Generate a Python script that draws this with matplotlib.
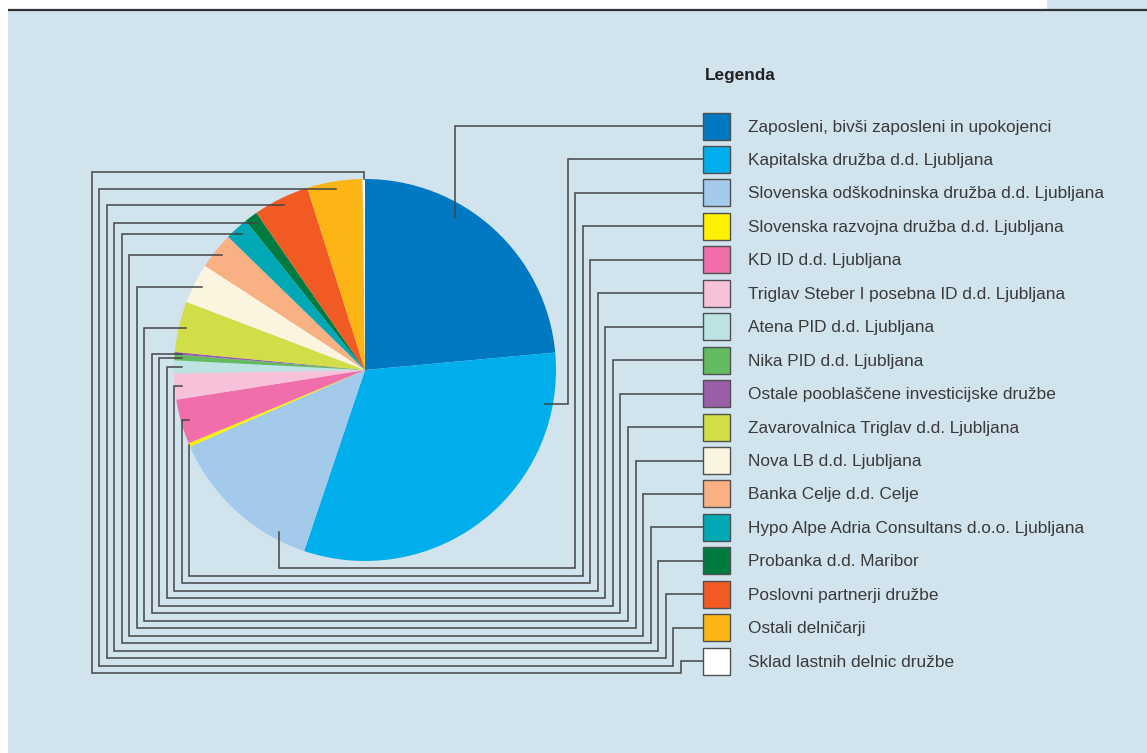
#!/usr/bin/env python3
"""Ownership structure pie with routed leader lines to the legend."""

from __future__ import annotations

import matplotlib as mpl
import matplotlib.pyplot as plt
import numpy as np
from matplotlib.patches import Rectangle

# shareholder groups (legend order, clockwise from 12 o'clock)
labels = [
    "Zaposleni, bivši zaposleni in upokojenci",
    "Kapitalska družba d.d. Ljubljana",
    "Slovenska odškodninska družba d.d. Ljubljana",
    "Slovenska razvojna družba d.d. Ljubljana",
    "KD ID d.d. Ljubljana",
    "Triglav Steber I posebna ID d.d. Ljubljana",
    "Atena PID d.d. Ljubljana",
    "Nika PID d.d. Ljubljana",
    "Ostale pooblaščene investicijske družbe",
    "Zavarovalnica Triglav d.d. Ljubljana",
    "Nova LB d.d. Ljubljana",
    "Banka Celje d.d. Celje",
    "Hypo Alpe Adria Consultans d.o.o. Ljubljana",
    "Probanka d.d. Maribor",
    "Poslovni partnerji družbe",
    "Ostali delničarji",
    "Sklad lastnih delnic družbe",
]
# shares in percent
shares = [23.6, 31.7, 13.3, 0.3, 3.8, 2.2, 1.1, 0.5, 0.2, 4.3, 3.4, 3.1, 2.0, 1.1, 4.75, 4.7, 0.2]

colors = [
    "#0079C2", "#00AEEC", "#A4CAEB", "#FFF200", "#F06FAA", "#F7C1D9",
    "#BEE3E3", "#62BB5E", "#9B5FA8", "#D1DE48", "#FBF5E0", "#F9B184",
    "#00A9B5", "#007B40", "#F15A22", "#FDB515", "#FFFFFF",
]

W, H = 1147, 753
BG = "#D1E3EC"
LINE = "#454545"
TEXT = "#3a3a3a"


def set_style() -> None:
    mpl.rcParams.update(
        {
            "font.family": ["Liberation Sans", "DejaVu Sans"],
            "font.size": 12.4,
            "savefig.dpi": 100,
        }
    )


def main() -> None:
    set_style()
    fig = plt.figure(figsize=(W / 100, H / 100), dpi=100, facecolor="white")
    ax = fig.add_axes([0, 0, 1, 1])

    # page frame
    ax.add_patch(Rectangle((8, 10), W - 8, H - 10, facecolor=BG, edgecolor="none", zorder=0))
    ax.add_patch(Rectangle((1047, 0), W - 1047, 9, facecolor=BG, edgecolor="none", zorder=0))
    ax.plot([8, W], [9.5, 9.5], color="#2f3336", lw=1.6, zorder=1, solid_capstyle="butt")

    # pie: y axis is inverted, so counterclock in data is clockwise on screen
    cx, cy, r = 365, 370, 191
    wedges, _ = ax.pie(
        shares,
        colors=colors,
        startangle=-90,
        counterclock=True,
        center=(cx, cy),
        radius=r,
        frame=True,
        wedgeprops={"linewidth": 0},
    )
    ax.set_xlim(0, W)
    ax.set_ylim(H, 0)  # pixel coordinates, y down
    ax.set_aspect("equal")
    ax.axis("off")

    # legend
    ax.text(705, 75, "Legenda", fontsize=12.4, fontweight="bold", color="#222222", va="center")
    box_x, box_w, step, y0 = 703, 27, 33.45, 126
    for i, (lab, col) in enumerate(zip(labels, colors)):
        yb = y0 + step * i
        ax.add_patch(
            Rectangle((box_x, yb - box_w / 2), box_w, box_w, facecolor=col,
                      edgecolor="#505050", lw=1.0, zorder=3)
        )
        ax.text(748, yb + 1, lab, color=TEXT, va="center", ha="left")

    # leader lines, anchored inside each wedge
    frac = {0: 0.36, 1: 0.14, 2: 0.2}
    rfrac = {0: 0.93, 3: 1.0, 16: 1.0}
    for i, w in enumerate(wedges):
        f = frac.get(i, 0.5)
        th = np.deg2rad(w.theta1 + f * (w.theta2 - w.theta1))
        rr = r * rfrac.get(i, 0.96)
        axp = cx + rr * np.cos(th)
        ayp = cy + rr * np.sin(th)
        yb = y0 + step * i
        xr = 560 + 7.55 * i
        ybot = 568 + 7.5 * (i - 2)
        xl = 189 - 7.5 * (i - 3)
        if i == 0:
            xs, ys = [box_x, axp, axp], [yb, yb, ayp]
        elif i == 1:
            xs, ys = [box_x, xr, xr, axp], [yb, yb, ayp, ayp]
        elif i in (2, 3):
            xs, ys = [box_x, xr, xr, axp, axp], [yb, yb, ybot, ybot, ayp]
        elif i == 16:
            xs = [box_x, xr, xr, xl, xl, axp, axp]
            ys = [yb, yb, ybot, ybot, 172, 172, ayp]
        else:
            xs = [box_x, xr, xr, xl, xl, axp]
            ys = [yb, yb, ybot, ybot, ayp, ayp]
        ax.plot(xs, ys, color=LINE, lw=1.1, zorder=2, solid_joinstyle="miter")

    fig.savefig("out.png", dpi=100, facecolor="white")


if __name__ == "__main__":
    main()
